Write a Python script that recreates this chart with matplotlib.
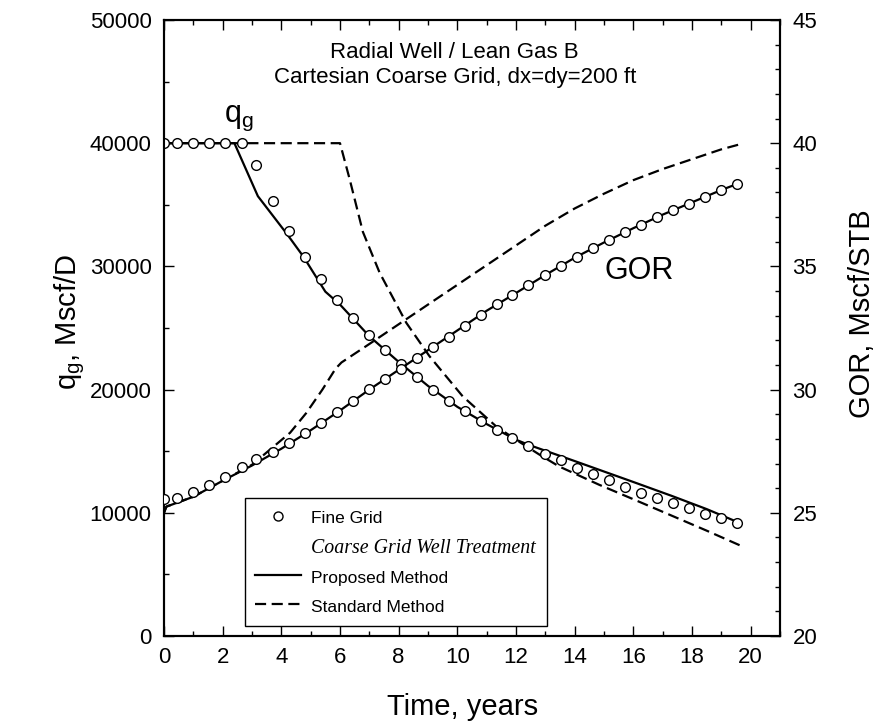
import matplotlib
matplotlib.use("Agg")
import matplotlib.pyplot as plt
from matplotlib.lines import Line2D
from matplotlib.ticker import MultipleLocator

plt.rcParams['font.family'] = 'Liberation Sans'
plt.rcParams['mathtext.fontset'] = 'custom'
plt.rcParams['mathtext.rm'] = 'Liberation Sans'
plt.rcParams['mathtext.default'] = 'regular'

# Fine grid reference run (time in years)
t_fine = [0.0, 0.45, 0.98, 1.53, 2.09, 2.65, 3.15, 3.72, 4.26, 4.80, 5.35, 5.91,
          6.45, 6.98, 7.53, 8.08, 8.62, 9.16, 9.71, 10.25, 10.79, 11.34, 11.88,
          12.42, 12.99, 13.52, 14.07, 14.62, 15.17, 15.71, 16.27, 16.81, 17.35,
          17.89, 18.46, 19.00, 19.53]
qg_fine = [40000, 40000, 40000, 40000, 40000, 40000, 38200, 35300, 32900, 30800,
           29000, 27300, 25800, 24470, 23200, 22090, 21000, 19970, 19100, 18240,
           17480, 16750, 16070, 15420, 14800, 14250, 13660, 13110, 12630, 12110,
           11630, 11160, 10760, 10350, 9920, 9570, 9210]
gor_fine = [25.56, 25.60, 25.83, 26.13, 26.44, 26.84, 27.18, 27.48, 27.83, 28.25,
            28.63, 29.08, 29.55, 30.01, 30.43, 30.85, 31.27, 31.71, 32.14, 32.57,
            33.04, 33.46, 33.85, 34.24, 34.63, 35.01, 35.39, 35.73, 36.07, 36.39,
            36.69, 36.99, 37.28, 37.55, 37.82, 38.09, 38.33]

# Coarse grid, proposed well treatment
t_prop_q = [0.0, 2.4, 3.2, 4.2, 4.75, 5.5, 6.0, 7.0, 8.0, 9.0, 10.0, 11.0, 12.0,
            12.45, 14.0, 16.0, 17.3, 18.5, 19.55]
qg_prop = [40000, 40000, 35700, 32600, 30800, 27950, 26900, 24330, 22250, 20300,
           18600, 17200, 15930, 15500, 14200, 12500, 11380, 10300, 9250]
t_prop_gor = [0.0, 0.08, 1.0, 2.0, 3.0, 4.0, 5.0, 6.0, 7.0, 8.0, 9.0, 10.0, 11.0,
              12.0, 13.0, 14.0, 15.0, 16.0, 17.0, 18.0, 19.0, 19.55]
gor_prop = [25.0, 25.25, 25.65, 26.3, 26.92, 27.6, 28.35, 29.15, 30.0, 30.8, 31.6,
            32.4, 33.2, 33.92, 34.65, 35.35, 35.97, 36.55, 37.1, 37.6, 38.1, 38.35]

# Coarse grid, standard well treatment
t_std_q = [0.0, 6.0, 6.33, 6.78, 7.35, 8.26, 9.05, 10.18, 11.32, 12.0, 12.8, 13.47,
           14.83, 16.0, 17.1, 18.5, 19.65]
qg_std = [40000, 40000, 37070, 32800, 29490, 25420, 22710, 19460, 17020, 15930,
          14720, 13760, 12280, 11100, 9980, 8550, 7340]
t_std_gor = [0.0, 0.08, 1.0, 2.0, 3.0, 3.7, 4.3, 4.85, 5.4, 5.85, 6.05, 7.0, 8.0,
             9.0, 10.0, 11.0, 12.0, 13.0, 14.0, 15.0, 16.0, 17.0, 18.0, 19.0, 19.65]
gor_std = [25.0, 25.25, 25.65, 26.3, 26.95, 27.65, 28.25, 29.05, 30.0, 30.85, 31.1,
           31.85, 32.65, 33.45, 34.25, 35.05, 35.85, 36.65, 37.35, 37.95, 38.5,
           38.95, 39.35, 39.75, 39.96]

dash = (0, (5, 2.5))
lw = 1.6
circ = dict(ls='none', marker='o', ms=7, mfc='white', mec='black', mew=1.0, zorder=5)

fig = plt.figure(figsize=(8.77, 7.21), dpi=100)
ax = fig.add_axes([0.187, 0.1179, 0.7024, 0.8544])
ax2 = ax.twinx()

ax.plot(t_prop_q, qg_prop, color='black', lw=lw, zorder=3)
ax.plot(t_std_q, qg_std, color='black', lw=lw, ls=dash, zorder=3)
ax.plot(t_fine, qg_fine, **circ)

ax2.plot(t_prop_gor, gor_prop, color='black', lw=lw, zorder=3)
ax2.plot(t_std_gor, gor_std, color='black', lw=lw, ls=dash, zorder=3)
ax2.plot(t_fine, gor_fine, **circ)

ax.set_xlim(0, 21)
ax.set_ylim(0, 50000)
ax2.set_ylim(20, 45)

ax.set_xticks(range(0, 21, 2))
ax.xaxis.set_minor_locator(MultipleLocator(1))
ax.yaxis.set_major_locator(MultipleLocator(10000))
ax.yaxis.set_minor_locator(MultipleLocator(5000))
ax2.yaxis.set_major_locator(MultipleLocator(5))
ax2.yaxis.set_minor_locator(MultipleLocator(1))

ax.tick_params(which='both', direction='in', top=True, right=False, width=1.0,
               labelsize=16, colors='black')
ax.tick_params(which='major', length=7.2)
ax.tick_params(which='minor', length=3.6)
ax.tick_params(axis='x', pad=8)
ax.tick_params(axis='y', pad=9)
ax2.tick_params(which='both', direction='in', width=1.0, labelsize=16, pad=9)
ax2.tick_params(which='major', length=7.2)
ax2.tick_params(which='minor', length=3.6)

for a in (ax, ax2):
    for s in a.spines.values():
        s.set_linewidth(1.5)

ax.set_xlabel('Time, years', fontsize=21)
ax.xaxis.set_label_coords(0.485, -0.0925)
ax.set_ylabel('$\\mathregular{q_g}$, Mscf/D', fontsize=21)
ax.yaxis.set_label_coords(-0.125, 0.51)
ax2.set_ylabel('GOR, Mscf/STB', fontsize=21)
ax2.yaxis.set_label_coords(1.11, 0.5235)

ax.text(0.472, 0.938, 'Radial Well / Lean Gas B', transform=ax.transAxes,
        ha='center', va='baseline', fontsize=16)
ax.text(0.472, 0.898, 'Cartesian Coarse Grid, dx=dy=200 ft', transform=ax.transAxes,
        ha='center', va='baseline', fontsize=16)
ax.text(2.05, 41700, '$\\mathregular{q_g}$', ha='left', va='baseline', fontsize=22)
ax2.text(15.0, 34.5, 'GOR', ha='left', va='baseline', fontsize=22)

handles = [Line2D([], [], ls='none', marker='o', ms=6.5, mfc='white', mec='black', mew=1.0),
           Line2D([], [], ls='none'),
           Line2D([], [], color='black', lw=lw),
           Line2D([], [], color='black', lw=lw, ls=dash)]
labels = ['Fine Grid', 'Coarse Grid Well Treatment', 'Proposed Method', 'Standard Method']
leg = ax2.legend(handles, labels, loc='lower left', bbox_to_anchor=(0.1315, 0.0162),
                 borderaxespad=0, fontsize=12.5, fancybox=False, edgecolor='black',
                 framealpha=1, handlelength=2.6, handletextpad=0.63,
                 handleheight=1.32, borderpad=0.6, labelspacing=0.57)
leg.get_frame().set_linewidth(1.0)
it = leg.get_texts()[1]
it.set_fontfamily('Liberation Serif')
it.set_fontstyle('italic')
it.set_fontsize(14.3)

plt.savefig('out.png', dpi=100)
plt.close()
